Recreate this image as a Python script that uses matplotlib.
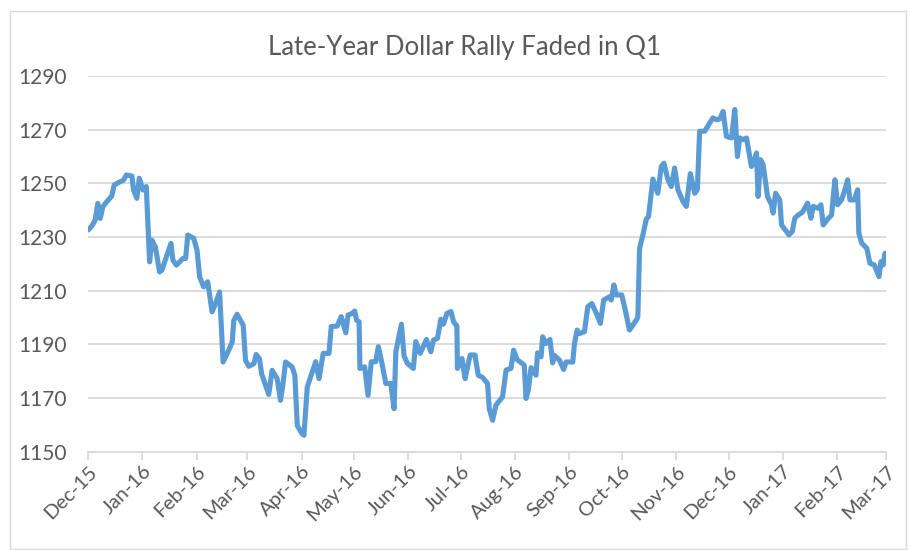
import matplotlib
matplotlib.use("Agg")
import matplotlib.pyplot as plt
import matplotlib.dates as mdates
from matplotlib.patches import Rectangle
import datetime as dt

title = "Late-Year Dollar Rally Faded in Q1"
start_date = "2015-12-01"
end_date = "2017-03-01"
tick_months = ["2015-12-01", "2016-01-01", "2016-02-01", "2016-03-01", "2016-04-01",
               "2016-05-01", "2016-06-01", "2016-07-01", "2016-08-01", "2016-09-01",
               "2016-10-01", "2016-11-01", "2016-12-01", "2017-01-01", "2017-02-01",
               "2017-03-01"]
y_ticks = [1150, 1170, 1190, 1210, 1230, 1250, 1270, 1290]

# days since 2015-12-01
days = [0.1, 2.2, 4.1, 5.6, 7.0, 8.5, 10.8, 13.6, 15.0, 18.4, 20.3, 21.9, 25.1, 26.0, 27.9,
        29.3, 31.4, 33.3, 35.2, 36.5, 38.5, 40.9, 42.2, 47.4, 48.5, 50.5, 54.3, 55.8, 57.0,
        60.4, 62.3, 63.8, 66.1, 68.4, 70.9, 72.9, 75.2, 77.2, 79.5, 82.4, 83.3, 85.2, 88.7,
        90.0, 91.9, 94.8, 96.1, 98.0, 99.2, 101.5, 103.3, 105.2, 108.1, 110.0, 111.3, 112.9,
        116.7, 118.2, 119.6, 122.4, 123.4, 125.3, 130.1, 132.0, 134.4, 137.7, 139.0, 142.4,
        144.7, 147.3, 148.6, 151.0, 152.4, 153.5, 154.9, 155.4, 158.1, 160.0, 161.9, 164.4,
        165.9, 167.6, 170.2, 173.0, 174.9, 175.9, 179.1, 180.6, 182.5, 185.9, 187.3, 189.8,
        193.4, 195.9, 197.4, 199.7, 201.6, 203.1, 205.1, 207.4, 208.9, 210.8, 211.1, 213.7,
        215.5, 216.9, 218.4, 221.1, 223.0, 225.5, 228.3, 229.3, 231.2, 233.1, 236.9, 238.9,
        241.7, 243.2, 245.2, 249.3, 250.3, 251.6, 253.2, 256.0, 256.9, 258.9, 259.8, 261.7,
        264.0, 265.5, 266.5, 269.4, 271.8, 273.2, 277.0, 278.0, 279.5, 280.8, 283.7, 285.6,
        287.9, 290.9, 292.8, 294.7, 298.0, 299.0, 300.5, 301.8, 305.0, 307.0, 309.4, 311.3,
        313.6, 314.2, 315.2, 317.1, 319.0, 320.3, 322.8, 325.6, 327.6, 329.1, 331.4, 333.3,
        335.2, 337.1, 340.0, 341.9, 344.2, 346.7, 348.2, 349.5, 352.4, 354.7, 357.1, 359.1,
        361.0, 362.9, 364.8, 367.7, 369.6, 371.1, 372.4, 374.3, 376.3, 379.1, 380.6, 382.0,
        382.9, 384.3, 385.8, 388.3, 390.6, 391.5, 392.9, 395.3, 396.3, 399.2, 400.5, 402.4,
        403.9, 405.8, 408.1, 411.2, 413.1, 414.4, 417.2, 418.8, 420.1, 422.6, 424.9, 426.8,
        428.3, 430.6, 432.5, 434.1, 435.4, 437.9, 439.8, 440.5, 442.1, 445.0, 446.8, 449.3,
        452.0, 453.1, 454.5, 455.4, 456.0]

values = [1232.6, 1234.1, 1236.3, 1242.5, 1236.9, 1241.3, 1243.2, 1245.3, 1249.4, 1250.6,
          1251.2, 1253.1, 1252.7, 1247.5, 1244.4, 1251.9, 1247.5, 1248.8, 1220.7, 1228.8,
          1226.3, 1217.0, 1217.6, 1227.6, 1221.4, 1219.5, 1222.0, 1222.0, 1230.7, 1229.5,
          1225.1, 1215.1, 1211.4, 1213.3, 1202.1, 1205.2, 1209.5, 1183.4, 1186.5, 1190.8,
          1198.9, 1201.2, 1197.1, 1184.0, 1181.8, 1182.8, 1186.2, 1184.6, 1179.0, 1174.7,
          1171.3, 1180.3, 1177.2, 1169.1, 1174.7, 1183.4, 1181.5, 1178.4, 1159.7, 1156.6,
          1156.1, 1174.1, 1183.5, 1177.2, 1186.6, 1186.6, 1196.6, 1196.8, 1200.3, 1194.3,
          1200.9, 1201.5, 1202.4, 1199.0, 1198.4, 1181.0, 1181.6, 1171.0, 1183.5, 1183.5,
          1189.1, 1184.1, 1175.4, 1175.4, 1166.0, 1187.2, 1197.5, 1185.6, 1182.9, 1181.0,
          1191.0, 1186.6, 1191.8, 1187.2, 1191.6, 1192.2, 1199.3, 1197.5, 1201.5, 1202.2,
          1198.4, 1196.8, 1181.0, 1184.7, 1177.2, 1181.6, 1186.0, 1186.0, 1178.5, 1177.6,
          1175.4, 1166.0, 1161.7, 1167.3, 1170.4, 1180.4, 1181.0, 1187.8, 1184.3, 1182.2,
          1169.8, 1172.9, 1181.3, 1178.5, 1186.8, 1185.3, 1192.8, 1190.3, 1191.8, 1183.1,
          1185.9, 1184.1, 1180.6, 1183.4, 1183.4, 1190.3, 1195.3, 1194.0, 1194.7, 1204.0,
          1205.2, 1200.9, 1197.8, 1206.5, 1207.7, 1206.5, 1212.1, 1208.4, 1208.4, 1202.8,
          1195.3, 1197.1, 1199.3, 1200.3, 1225.8, 1230.8, 1236.6, 1237.6, 1251.6, 1246.3,
          1256.3, 1257.5, 1251.3, 1248.8, 1255.7, 1247.6, 1243.2, 1241.4, 1253.6, 1246.3,
          1247.6, 1269.4, 1269.4, 1271.9, 1274.4, 1273.7, 1274.0, 1276.8, 1267.5, 1266.9,
          1277.5, 1260.0, 1266.9, 1266.3, 1266.9, 1256.3, 1258.2, 1261.3, 1245.1, 1258.8,
          1256.9, 1245.1, 1242.0, 1238.9, 1246.3, 1243.8, 1234.5, 1232.0, 1230.8, 1232.0,
          1237.0, 1238.2, 1239.1, 1242.6, 1237.0, 1241.4, 1240.7, 1242.0, 1234.5, 1236.6,
          1238.2, 1251.3, 1242.0, 1243.8, 1247.6, 1251.3, 1243.8, 1243.8, 1247.6, 1231.4,
          1227.7, 1225.8, 1220.2, 1219.6, 1215.2, 1220.8, 1219.6, 1223.9, 1222.7]

base = dt.datetime.strptime(start_date, "%Y-%m-%d")
x = [mdates.date2num(base) + d for d in days]
ticks = [mdates.date2num(dt.datetime.strptime(t, "%Y-%m-%d")) for t in tick_months]

plt.rcParams['font.family'] = ['Lato', 'DejaVu Sans']
text_color = "#595959"
grid_color = "#d9d9d9"

fig = plt.figure(figsize=(9.11, 5.5), dpi=100)
fig.patches.append(Rectangle((10 / 911, 0.002), 896 / 911, 1 - 12 / 550,
                             transform=fig.transFigure, fill=False,
                             edgecolor="#d9d9d9", linewidth=1.0))

ax = fig.add_axes([88 / 911, 1 - 451.6 / 550, (886 - 88) / 911, (451.6 - 76) / 550])
ax.plot(x, values, color="#5B9BD5", linewidth=3.7, solid_joinstyle="round",
        solid_capstyle="round", zorder=3)

ax.set_xlim(mdates.date2num(base),
            mdates.date2num(dt.datetime.strptime(end_date, "%Y-%m-%d")))
ax.set_ylim(y_ticks[0], y_ticks[-1])
ax.set_yticks(y_ticks)
ax.set_xticks(ticks)
ax.xaxis.set_major_formatter(mdates.DateFormatter("%b-%y"))

ax.grid(axis="y", color=grid_color, linewidth=1.3, zorder=0)
ax.set_axisbelow(True)
for s in ["top", "right", "left"]:
    ax.spines[s].set_visible(False)
ax.spines["bottom"].set_color(grid_color)
ax.spines["bottom"].set_linewidth(1.3)

ax.tick_params(axis="y", length=0, pad=15, labelsize=15, labelcolor=text_color)
ax.tick_params(axis="x", length=6, width=1.3, color=grid_color, direction="out",
               labelsize=14.5, labelcolor=text_color, pad=2)
for lab in ax.get_xticklabels():
    lab.set_rotation(45)
    lab.set_ha("right")
    lab.set_rotation_mode("anchor")

fig.text(465 / 911, 1 - 47 / 550, title, ha="center", va="center",
         fontsize=18.5, color=text_color)

fig.savefig("out.png", dpi=100)
